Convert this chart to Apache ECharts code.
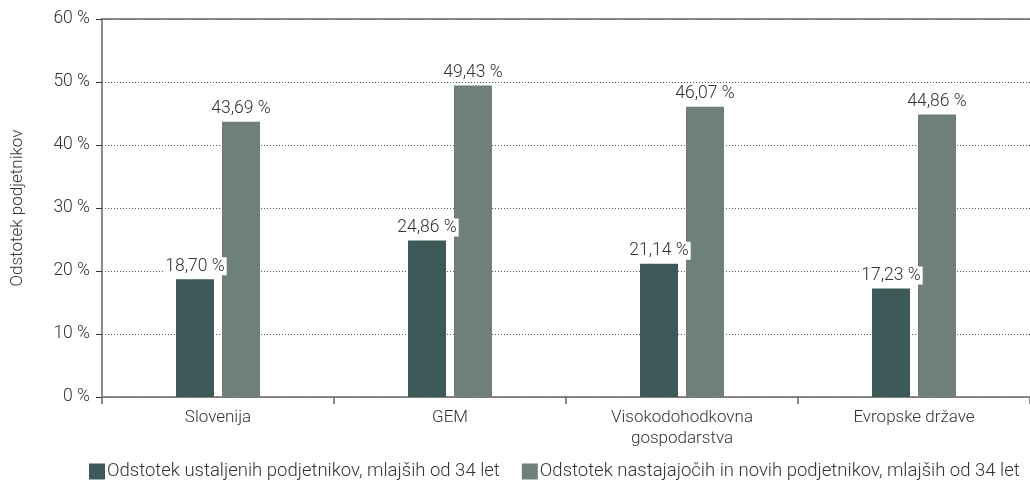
<!DOCTYPE html>
<html><head><meta charset="utf-8">
<script src="https://cdn.jsdelivr.net/npm/echarts@6/dist/echarts.min.js"></script>
<style>html,body{margin:0;padding:0;background:#fff}#c{width:1030px;height:485px}</style>
</head><body><div id="c"></div>
<script>
const categories = ['Slovenija', 'GEM', 'Visokodohodkovna\ngospodarstva', 'Evropske države'];
const seriesNames = ['Odstotek ustaljenih podjetnikov, mlajših od 34 let', 'Odstotek nastajajočih in novih podjetnikov, mlajših od 34 let'];
const established = [18.70, 24.86, 21.14, 17.23];
const nascent = [43.69, 49.43, 46.07, 44.86];
const yTicks = [0, 10, 20, 30, 40, 50, 60];
const yAxisName = 'Odstotek podjetnikov';

const FONT = 'Roboto';
const FW = 300;
const TXT = '#333';
const fmt = v => v.toFixed(2).replace('.', ',') + ' %';
const chart = echarts.init(document.getElementById('c'));
const lbl = {
  show: true, position: 'top', distance: 4, color: TXT, fontFamily: FONT, fontWeight: FW, fontSize: 17.5,
  backgroundColor: '#fff', padding: [0, 2], formatter: p => fmt(p.value)
};
chart.setOption({
  animation: false,
  textStyle: { fontFamily: FONT },
  grid: { left: 102, right: 0, top: 19, bottom: 88 },
  legend: {
    bottom: -1, left: 84, itemWidth: 16, itemHeight: 16, itemGap: 22,
    icon: 'rect',
    textStyle: { color: TXT, fontFamily: FONT, fontWeight: FW, fontSize: 18.5, padding: [0, 0, 0, -3] },
    data: seriesNames
  },
  xAxis: [{
    type: 'category', data: categories,
    axisLine: { lineStyle: { color: '#666', width: 1.5 } },
    axisTick: { show: true, length: 7, lineStyle: { color: '#666', width: 1.5 } },
    axisLabel: { color: TXT, fontFamily: FONT, fontWeight: FW, fontSize: 17, margin: 10, lineHeight: 21 }
  }, {
    type: 'category', data: categories, position: 'top',
    axisLine: { show: true, lineStyle: { color: '#666', width: 1.5 } },
    axisTick: { show: false }, axisLabel: { show: false }
  }],
  yAxis: {
    type: 'value', min: yTicks[0], max: yTicks[yTicks.length - 1], interval: 10,
    name: yAxisName, nameLocation: 'middle', nameGap: 76, nameRotate: 90,
    nameTextStyle: { color: TXT, fontFamily: FONT, fontWeight: FW, fontSize: 17 },
    axisLine: { show: true, lineStyle: { color: '#666', width: 1.5 } },
    axisTick: { show: true, length: 6, lineStyle: { color: '#333' } },
    axisLabel: { color: TXT, fontFamily: FONT, fontWeight: FW, fontSize: 17.5, margin: 12, formatter: v => v + ' %' },
    splitLine: { show: true, lineStyle: { color: '#555', type: [1, 2], width: 1 } }
  },
  series: [{
    name: seriesNames[0], type: 'bar', data: established, barWidth: 38, barGap: '21%',
    itemStyle: { color: '#3d5a58' }, label: lbl
  }, {
    name: seriesNames[1], type: 'bar', data: nascent, barWidth: 38,
    itemStyle: { color: '#6f7f7c' }, label: lbl
  }]
});
</script></body></html>
